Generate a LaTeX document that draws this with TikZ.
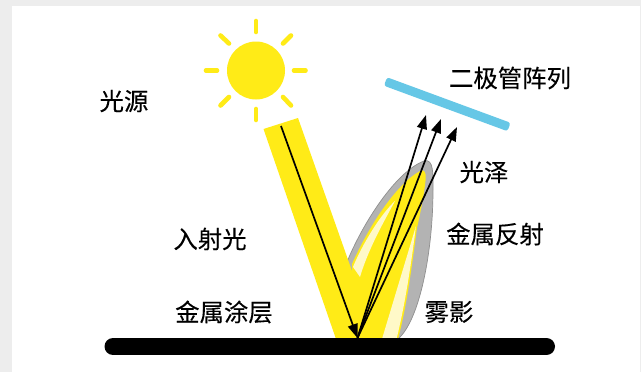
\documentclass[tikz,border=0pt]{standalone}
\usepackage{fontspec}
\setmainfont[FakeBold=0.15]{Noto Sans CJK SC}
\usetikzlibrary{arrows.meta}
\definecolor{sunY}{HTML}{FFEB17}
\definecolor{paleY}{HTML}{FFF9C8}
\definecolor{hazeG}{HTML}{B3B3B3}
\definecolor{hazeE}{HTML}{8F8F8F}
\definecolor{bandB}{HTML}{66C7E6}
\definecolor{pageG}{HTML}{EDEDED}
\tikzset{
  x=1pt,y=-1pt,
  ray/.style={line width=4.6pt,sunY,line cap=round},
  lbl/.style={font=\fontsize{24.4}{28}\selectfont,inner sep=0pt,text=black},
  arr/.style={line width=1.7pt,black,-{Triangle[length=14pt,width=10pt]}}
}
\begin{document}
\begin{tikzpicture}
\useasboundingbox (0,0) rectangle (641,372);
\fill[pageG] (0,0) rectangle (641,372);
\fill[white] (12,5.5) rectangle (640,372);
% sun
\fill[sunY] (256,70.5) circle (29);
\draw[ray] (256,21) -- (256,32);
\draw[ray] (256,109) -- (256,120);
\draw[ray] (206,70.5) -- (217,70.5);
\draw[ray] (294,70.5) -- (305.5,70.5);
\draw[ray] (220.5,35.5) -- (229,43.5);
\draw[ray] (291,35.5) -- (283,43.5);
\draw[ray] (229,97) -- (220.5,105.5);
\draw[ray] (283,97) -- (291,105.5);
% haze
\fill[hazeG,draw=hazeE,line width=.7pt] (347,262) .. controls (362,225) and (395,172) .. (424,161) .. controls (434,158) and (433,175) .. (433,190) .. controls (433,250) and (420,320) .. (398,339) -- (347,339) -- cycle;
% metal reflection
\fill[sunY] (352,264) .. controls (368,228) and (395,185) .. (420,171) .. controls (427,168) and (426,178) .. (425,185) .. controls (423,200) and (420,215) .. (417,228) .. controls (412,265) and (407,305) .. (398,339) -- (352,339) -- cycle;
\fill[paleY] (353,267) .. controls (362,245) and (380,215) .. (395,201) .. controls (382,225) and (368,250) .. (360,277) -- cycle;
\fill[paleY] (382,339) -- (416,226) .. controls (411,265) and (405,305) .. (396.5,339) -- cycle;
% beam
\fill[sunY] (263.5,129) -- (298,118) -- (376,339) -- (336,339) -- cycle;
% ground
\draw[line width=17pt,line cap=round,black] (113,346.5) -- (546.5,346.5);
% diode
\fill[bandB,rounded corners=2.5pt] (387.1,77.3) -- (510.6,122.8) -- (507.4,131.2) -- (383.9,85.7) -- cycle;
% arrows
\coordinate (src) at (281,126);
\coordinate (hit) at (357.5,338);
\coordinate (a1) at (426,115);
\coordinate (a2) at (441,119);
\coordinate (a3) at (457,127);
\draw[arr] (src) -- (hit);
\draw[arr] (hit) -- (a1);
\draw[arr] (hit) -- (a2);
\draw[arr] (hit) -- (a3);
% labels
\node[lbl] (l1) at (124,101) {光源};
\node[lbl] (l2) at (510,78) {二极管阵列};
\node[lbl] (l3) at (484,172) {光泽};
\node[lbl] (l4) at (495,234) {金属反射};
\node[lbl] (l5) at (210,239) {入射光};
\node[lbl] (l6) at (224,312) {金属涂层};
\node[lbl] (l7) at (449,312) {雾影};
\end{tikzpicture}
\end{document}
